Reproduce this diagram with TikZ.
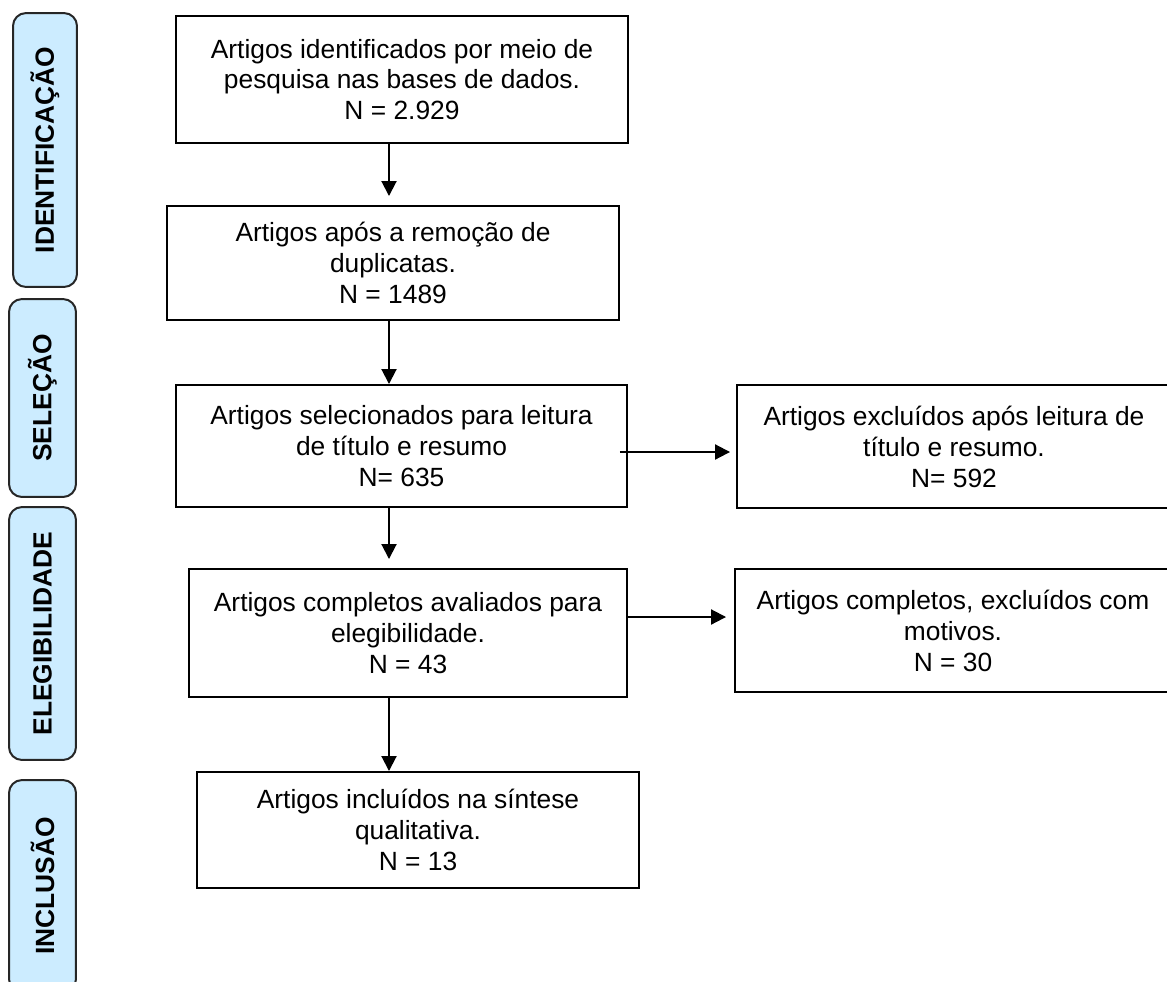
\documentclass[tikz,border=0pt]{standalone}
\usepackage{fontspec}
\setmainfont{Liberation Sans}
\usetikzlibrary{
    arrows.meta,
    positioning
}
\definecolor{phaseblue}{RGB}{204,236,255}
\tikzstyle{stage} = [
    rectangle,
    draw=black,
    line width=0.04cm,
    fill=white,
    align=center,
    inner sep=0pt,
    font=\fontsize{15}{17.6}\selectfont
]
\tikzstyle{phase} = [
    rectangle,
    rounded corners=0.26cm,
    draw=black!85,
    line width=0.04cm,
    fill=phaseblue,
    inner sep=0pt,
    rotate=90,
    minimum height=1.34cm,
    font=\fontsize{15}{18}\selectfont\bfseries
]
\tikzstyle{flow} = [
    -{Triangle[length=0.3cm,width=0.3cm]},
    line width=0.04cm,
    draw=black
]

\begin{document}
\begin{tikzpicture}[x=0.02cm, y=-0.02cm]
        \useasboundingbox (0,0) rectangle (1167,981);

        % Phases
        \node[phase, minimum width=5.48cm, minimum height=1.28cm] (barident) at (45,150) {IDENTIFICAÇÃO};
        \node[phase, minimum width=3.96cm] (barsel) at (42.5,398) {SELEÇÃO};
        \node[phase, minimum width=5.06cm] (bareleg) at (42.5,633.5) {ELEGIBILIDADE};
        \node[phase, minimum width=4.24cm] (barincl) at (42.5,886) {INCLUSÃO};

        % Main flow
        \node[stage, minimum width=9.04cm, minimum height=2.54cm] (found) at (402,79.5)
            {Artigos identificados por meio de\\pesquisa nas bases de dados.\\N = 2.929};
        \node[stage, minimum width=9.04cm, minimum height=2.28cm] (dedup) at (393,263)
            {Artigos após a remoção de\\duplicatas.\\N = 1489};
        \node[stage, minimum width=9.02cm, minimum height=2.44cm] (screened) at (401.5,446)
            {Artigos selecionados para leitura\\de título e resumo\\N= 635};
        \node[stage, minimum width=8.76cm, minimum height=2.56cm] (fulltext) at (408,633)
            {Artigos completos avaliados para\\elegibilidade.\\N = 43};
        \node[stage, minimum width=8.84cm, minimum height=2.32cm] (included) at (418,830)
            {Artigos incluídos na síntese\\qualitativa.\\N = 13};

        % Exclusions
        \node[stage, minimum width=8.68cm, minimum height=2.46cm] (screenout) at (954,446.5)
            {Artigos excluídos após leitura de\\título e resumo.\\N= 592};
        \node[stage, minimum width=8.72cm, minimum height=2.46cm] (fulltextout) at (953,630.5)
            {Artigos completos, excluídos com\\motivos.\\N = 30};

        \coordinate (spine) at (389,0);
        \draw[flow, shorten >=0.18cm] (found.south -| spine) -- (dedup.north -| spine);
        \draw[flow] (dedup.south -| spine) -- (screened.north -| spine);
        \draw[flow, shorten >=0.18cm] (screened.south -| spine) -- (fulltext.north -| spine);
        \draw[flow] (fulltext.south -| spine) -- (included.north -| spine);

        \draw[flow, shorten <=-0.16cm, shorten >=0.12cm] ([yshift=-0.12cm]screened.east) -- ([yshift=-0.12cm]screened.east -| screenout.west);
        \draw[flow, shorten >=0.16cm] ([yshift=0.32cm]fulltext.east) -- ([yshift=0.32cm]fulltext.east -| fulltextout.west);
    \end{tikzpicture}
\end{document}
